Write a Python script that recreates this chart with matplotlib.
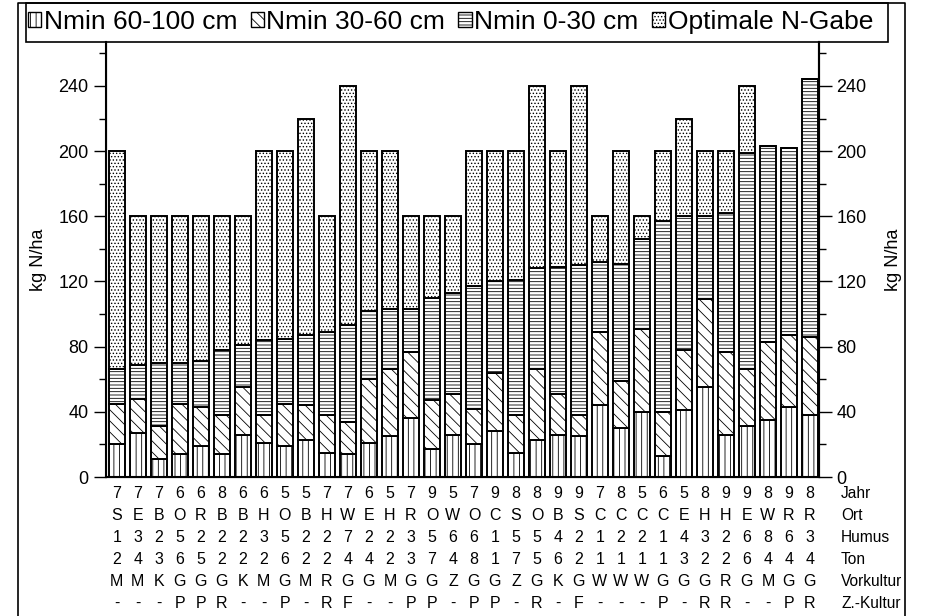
import numpy as np
import matplotlib.pyplot as plt
from matplotlib.patches import Patch, Rectangle
from matplotlib.lines import Line2D
from matplotlib.transforms import blended_transform_factory

plt.rcParams['font.family'] = ['Liberation Sans', 'DejaVu Sans']
plt.rcParams['hatch.linewidth'] = 0.6

# segment heights per bar (kg N/ha)
nmin_60_100 = [20, 27, 11, 14, 19, 14, 26, 21, 19, 23, 15, 14, 21, 25, 36, 17, 26,
               20, 28, 15, 23, 26, 25, 44, 30, 40, 13, 41, 55, 26, 31, 35, 43, 38]
nmin_30_60 = [25, 21, 20, 31, 24, 24, 29, 17, 26, 21, 23, 20, 39, 41, 41, 30, 25,
              22, 36, 23, 43, 25, 13, 45, 29, 51, 27, 37, 54, 51, 35, 48, 44, 48]
nmin_0_30 = [21, 21, 39, 25, 28, 40, 26, 46, 40, 43, 51, 59, 42, 37, 26, 63, 62,
             75, 56, 83, 62, 78, 92, 43, 72, 55, 117, 82, 51, 85, 133, 120, 115, 158]
n_gabe = [134, 91, 90, 90, 89, 82, 79, 116, 115, 133, 71, 147, 98, 97, 57, 50, 47,
          83, 80, 79, 112, 71, 110, 28, 69, 14, 43, 60, 40, 38, 41, 0, 0, 0]

# table under the bars
jahr = list("7776686655776579579889978565899898")
ort = list("SEBORBBHOBHWEHROWOCSOBSCCCCEHHEWRR")
humus = list("1325222352272235661554212214326863")
ton = list("2436522262244237481756211113226444")
vorkultur = list("MMKGGGKMGMRGGMGGZGGZGKGWWWGGGRGMGG")
zkultur = list("---PPR--P-RF--PP-PP-R-F---P-RR--PR")
row_names = ["Jahr", "Ort", "Humus", "Ton", "Vorkultur", "Z.-Kultur"]

series = [nmin_60_100, nmin_30_60, nmin_0_30, n_gabe]
labels = ["Nmin 60-100 cm", "Nmin 30-60 cm", "Nmin 0-30 cm", "Optimale N-Gabe"]
hatches = ["|||", "\\\\\\", "-----", "....."]

W, H = 925, 616


def fx(px):
    return px / W


def fy(py):
    return 1 - py / H


fig = plt.figure(figsize=(W / 100, H / 100), dpi=100)
ax = fig.add_axes([fx(106), fy(477), fx(819) - fx(106), fy(42) - fy(477)])

x = np.arange(len(jahr))
bottom = np.zeros(len(x))
for vals, hatch in zip(series, hatches):
    ax.bar(x, vals, 0.78, bottom=bottom, facecolor='white', edgecolor='black',
           hatch=hatch, linewidth=1.4)
    bottom += np.array(vals)

ax.set_xlim(-0.52, 33.43)
ax.set_ylim(0, 267)
ax.set_xticks([])
ax.spines['top'].set_visible(False)
for s in ['left', 'right', 'bottom']:
    ax.spines[s].set_linewidth(1.5)

ax2 = ax.twinx()
ax2.set_ylim(0, 267)
ax2.spines['top'].set_visible(False)
ax2.spines['right'].set_linewidth(1.5)
for a in (ax, ax2):
    a.set_yticks(range(0, 241, 40))
    a.set_yticks(range(20, 261, 40), minor=True)
    a.tick_params(axis='y', which='major', length=9, width=1, labelsize=13)
    a.tick_params(axis='y', which='minor', length=5, width=1)
    a.set_ylabel("kg N/ha", fontsize=13)
ax.yaxis.labelpad = 8
ax2.yaxis.labelpad = 13

trans = blended_transform_factory(ax.transData, fig.transFigure)
rows = [jahr, ort, humus, ton, vorkultur, zkultur]
for k, (row, name) in enumerate(zip(rows, row_names)):
    yy = fy(493 + 22 * k)
    for i, s in enumerate(row):
        ax.text(i, yy, s, transform=trans, ha='center', va='center', fontsize=11.5)
    fig.text(fx(841), yy, name, ha='left', va='center', fontsize=11.2)

# outer frame and legend box
fig.add_artist(Line2D([fx(18), fx(18), fx(905), fx(905)], [0, fy(3), fy(3), 0],
                      color='black', lw=1.2))
fig.add_artist(Rectangle((fx(26), fy(42)), fx(888) - fx(26), fy(3) - fy(42),
                         transform=fig.transFigure, fill=False, lw=1.2, ec='black'))

handles = [Patch(facecolor='white', edgecolor='black', hatch=h) for h in hatches]
fig.legend(handles, labels, loc='center left', bbox_to_anchor=(fx(28), fy(22)), ncol=4,
           frameon=False, fontsize=19, handlelength=0.5, handleheight=0.5,
           handletextpad=0.1, columnspacing=0.5, borderpad=0, borderaxespad=0)

fig.savefig("out.png", dpi=100)
